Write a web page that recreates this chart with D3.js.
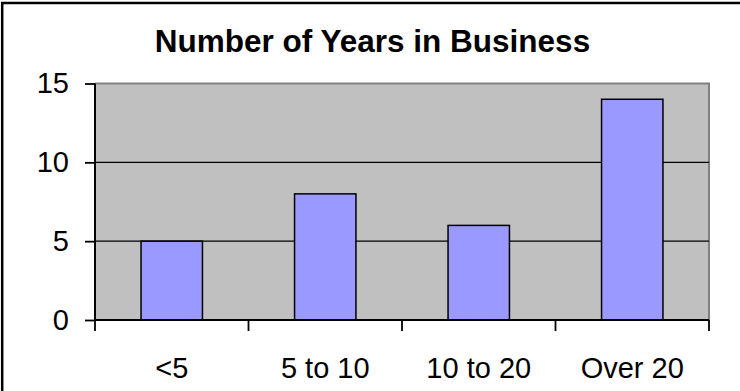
<!DOCTYPE html>
<html><head><meta charset="utf-8">
<script src="https://cdn.jsdelivr.net/npm/d3@7"></script>
<style>html,body{margin:0;padding:0;background:#fff;}svg{display:block;}</style>
</head><body>
<svg id="c" width="740" height="391"></svg>
<script>
const categories = ["<5", "5 to 10", "10 to 20", "Over 20"];
const values = [5, 8, 6, 14];
const yTicks = [0, 5, 10, 15];
const title = "Number of Years in Business";

const svg = d3.select("#c");
const font = "Arial, 'Liberation Sans', sans-serif";
const L = 95, R = 709, T = 83.5, B = 320;

// outer border (image cropped on right/bottom)
svg.append("rect").attr("x", 2.2).attr("y", 3).attr("width", 800).attr("height", 500)
  .attr("fill", "none").attr("stroke", "#000").attr("stroke-width", 2.5);

const x = d3.scaleBand().domain(categories).range([L, R]).paddingInner(0.6).paddingOuter(0.3);
const y = d3.scaleLinear().domain([0, 15]).range([B, T]);

// plot area
svg.append("rect").attr("x", L).attr("y", y(15)).attr("width", R - L).attr("height", B - y(15))
  .attr("fill", "#C0C0C0");
svg.append("path").attr("d", `M${L},${y(15)}H${R}V${B}`).attr("fill", "none")
  .attr("stroke", "#808080").attr("stroke-width", 2);

// gridlines
svg.selectAll(".grid").data(yTicks.filter(t => t > 0 && t < 15)).enter().append("line")
  .attr("x1", L).attr("x2", R).attr("y1", d => y(d)).attr("y2", d => y(d))
  .attr("stroke", "#000").attr("stroke-width", 1.2);

// bars
svg.selectAll(".bar").data(values).enter().append("rect")
  .attr("x", (d, i) => x(categories[i])).attr("width", x.bandwidth())
  .attr("y", d => y(d)).attr("height", d => B - y(d))
  .attr("fill", "#9999FF").attr("stroke", "#000").attr("stroke-width", 1.5);

// y axis
const yAxis = d3.axisLeft(y).tickValues(yTicks).tickSize(10).tickPadding(16).tickFormat(d3.format("d"));
const gy = svg.append("g").attr("transform", `translate(${L},0)`).call(yAxis);
gy.select(".domain").attr("stroke", "#000").attr("stroke-width", 2).attr("d", `M0,${y(15)}V${B}`);
gy.selectAll(".tick line").attr("stroke", "#000").attr("stroke-width", 1.8);
gy.selectAll(".tick text").attr("font-family", font).attr("font-size", 29).attr("fill", "#000");

// x axis
const step = x.step();
const bounds = categories.map(c => x(c) + x.bandwidth() / 2 - step / 2);
bounds.push(x(categories[categories.length - 1]) + x.bandwidth() / 2 + step / 2);
svg.append("line").attr("x1", L).attr("x2", R).attr("y1", B).attr("y2", B)
  .attr("stroke", "#000").attr("stroke-width", 2);
svg.selectAll(".xt").data(bounds).enter().append("line")
  .attr("x1", d => d).attr("x2", d => d).attr("y1", B).attr("y2", B + 11)
  .attr("stroke", "#000").attr("stroke-width", 1.8);
svg.selectAll(".xl").data(categories).enter().append("text")
  .attr("x", d => x(d) + x.bandwidth() / 2).attr("y", 378)
  .attr("text-anchor", "middle").attr("font-family", font).attr("font-size", 29).attr("fill", "#000")
  .text(d => d);

// title
svg.append("text").attr("x", 372.5).attr("y", 52).attr("text-anchor", "middle")
  .attr("font-family", font).attr("font-size", 31.5).attr("font-weight", "bold").attr("fill", "#000")
  .text(title);
</script>
</body></html>
